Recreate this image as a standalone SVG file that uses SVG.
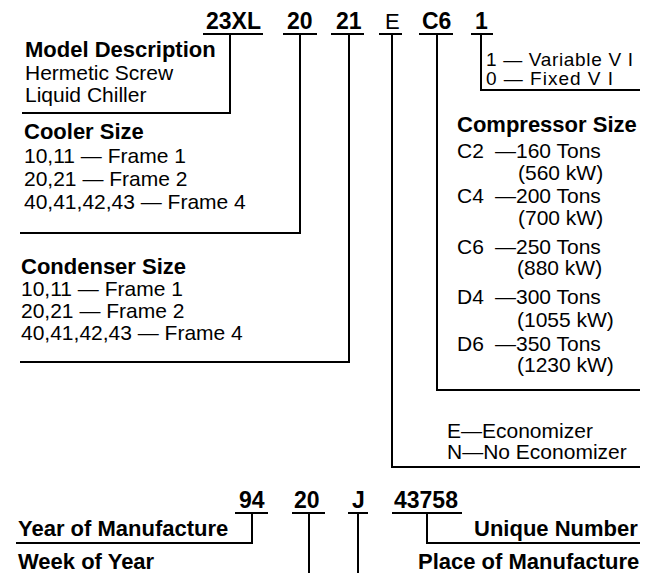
<svg xmlns="http://www.w3.org/2000/svg" width="647" height="573" viewBox="0 0 647 573">
<style>
.b{font-family:"Liberation Sans",Arial,sans-serif;font-weight:bold;font-size:22px;fill:#000}
.c{font-family:"Liberation Sans",Arial,sans-serif;font-weight:bold;font-size:23px;fill:#000}
.r{font-family:"Liberation Sans",Arial,sans-serif;font-size:21px;fill:#000}
.s{font-family:"Liberation Sans",Arial,sans-serif;font-size:19px;fill:#000}
.u{stroke:#000;stroke-width:2;fill:none}
.k{stroke:#000;stroke-width:2;fill:none}
</style>
<rect width="647" height="573" fill="#fff"/>
<g id="code-23XL"><text class="c" x="206" y="29">23XL</text><line class="u" x1="203" y1="34" x2="263" y2="34"/></g>
<g id="code-20"><text class="c" x="287" y="29">20</text><line class="u" x1="283" y1="34" x2="317" y2="34"/></g>
<g id="code-21"><text class="c" x="336" y="29">21</text><line class="u" x1="331" y1="34" x2="364" y2="34"/></g>
<g id="code-E"><text class="r" style="font-size:22px" x="385" y="29">E</text><line class="u" x1="379" y1="34" x2="402" y2="34"/></g>
<g id="code-C6"><text class="c" x="422" y="29">C6</text><line class="u" x1="419" y1="34" x2="453" y2="34"/></g>
<g id="code-1"><text class="c" x="475" y="29">1</text><line class="u" x1="471" y1="34" x2="493" y2="34"/></g>

<g id="model-description">
<text class="b" x="25" y="57">Model Description</text>
<text class="r" x="25" y="80">Hermetic Screw</text>
<text class="r" x="25" y="102">Liquid Chiller</text>
</g>
<g id="cooler-size">
<text class="b" x="24" y="139">Cooler Size</text>
<text class="r" x="24" y="163">10,11 — Frame 1</text>
<text class="r" x="24" y="186">20,21 — Frame 2</text>
<text class="r" x="24" y="209">40,41,42,43 — Frame 4</text>
</g>
<g id="condenser-size">
<text class="b" x="21" y="274">Condenser Size</text>
<text class="r" x="21" y="296">10,11 — Frame 1</text>
<text class="r" x="21" y="318">20,21 — Frame 2</text>
<text class="r" x="21" y="340">40,41,42,43 — Frame 4</text>
</g>
<g id="vi-option">
<text class="s" x="486" y="66" textLength="147" lengthAdjust="spacing">1 — Variable V I</text>
<text class="s" x="486" y="85" textLength="127" lengthAdjust="spacing">0 — Fixed V I</text>
</g>
<g id="compressor-size">
<text class="b" x="457" y="132">Compressor Size</text>
<text class="r"><tspan x="457" y="158">C2</tspan> <tspan x="495" y="158">—160 Tons</tspan></text>
<text class="r" x="518" y="180">(560 kW)</text>
<text class="r"><tspan x="457" y="203">C4</tspan> <tspan x="495" y="203">—200 Tons</tspan></text>
<text class="r" x="518" y="225">(700 kW)</text>
<text class="r"><tspan x="457" y="254">C6</tspan> <tspan x="495" y="254">—250 Tons</tspan></text>
<text class="r" x="517" y="275">(880 kW)</text>
<text class="r"><tspan x="457" y="304">D4</tspan> <tspan x="495" y="304">—300 Tons</tspan></text>
<text class="r" x="517" y="327">(1055 kW)</text>
<text class="r"><tspan x="457" y="351">D6</tspan> <tspan x="495" y="351">—350 Tons</tspan></text>
<text class="r" x="517" y="372">(1230 kW)</text>
</g>
<g id="economizer">
<text class="r" x="447" y="438">E—Economizer</text>
<text class="r" x="447" y="459">N—No Economizer</text>
</g>

<g id="serial-94"><text class="c" x="239" y="508">94</text><line class="u" x1="235" y1="513" x2="268" y2="513"/></g>
<g id="serial-20"><text class="c" x="294" y="508">20</text><line class="u" x1="292" y1="513" x2="325" y2="513"/></g>
<g id="serial-J"><text class="c" x="352" y="508">J</text><line class="u" x1="348" y1="513" x2="368" y2="513"/></g>
<g id="serial-43758"><text class="c" x="394" y="508">43758</text><line class="u" x1="392" y1="513" x2="462" y2="513"/></g>
<g id="year-of-manufacture"><text class="b" x="18" y="536">Year of Manufacture</text></g>
<g id="unique-number"><text class="b" x="474" y="536">Unique Number</text></g>
<g id="week-of-year"><text class="b" x="18" y="569">Week of Year</text></g>
<g id="place-of-manufacture"><text class="b" x="418" y="569">Place of Manufacture</text></g>

<g id="connectors">
<path class="k" d="M230,34 V113 H22"/>
<path class="k" d="M300,34 V233 H20"/>
<path class="k" d="M349,34 V362 H20"/>
<path class="k" d="M392,34 V467 H640"/>
<path class="k" d="M437,34 V390 H640"/>
<path class="k" d="M481,34 V90 H640"/>
<path class="k" d="M252,513 V543 H16"/>
<path class="k" d="M309,513 V573"/>
<path class="k" d="M358,513 V573"/>
<path class="k" d="M427,513 V543 H640"/>
</g>
</svg>
